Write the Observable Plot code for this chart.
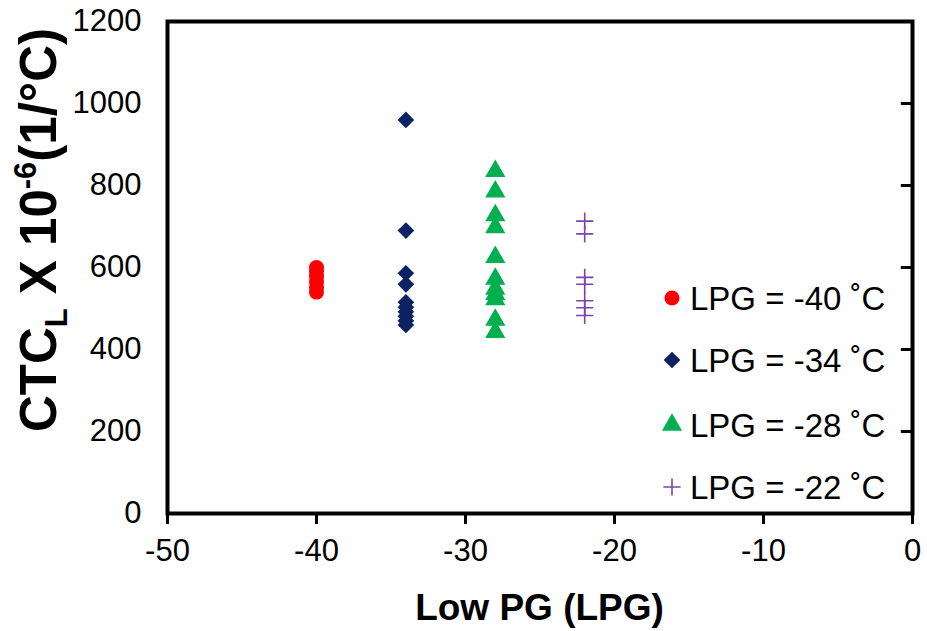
<!DOCTYPE html>
<html><head><meta charset="utf-8">
<script src="https://cdn.jsdelivr.net/npm/d3@7"></script>
<script src="https://cdn.jsdelivr.net/npm/@observablehq/plot@0.6"></script>
<style>
body{margin:0;background:#fff;}
#chart{position:relative;width:927px;height:631px;font-family:"Liberation Sans",Arial,sans-serif;}
</style>
</head><body><div id="chart"></div>
<script>
// ---- data ----
const seriesNames = ["LPG = -40 ˚C", "LPG = -34 ˚C", "LPG = -28 ˚C", "LPG = -22 ˚C"];
const seriesLPG = [-40, -34, -28, -22];
const valuesM40 = [540, 552, 565, 578, 590, 600];
const valuesM34 = [960, 690, 586, 559, 515, 503, 492, 481, 470, 460];
const valuesM28 = [835, 785, 727, 698, 625, 572, 548, 535, 522, 472, 442];
const valuesM22 = [713, 682, 576, 559, 519, 502, 483];
const xTicks = [-50, -40, -30, -20, -10, 0];
const yTicks = [0, 200, 400, 600, 800, 1000, 1200];

const seriesColors = ["#FF0000", "#0B2265", "#00B050", "#7A45A8"];
const seriesSymbols = ["circle", "diamond2", "triangle", "plus"];
const allValues = [valuesM40, valuesM34, valuesM28, valuesM22];

const rows = [];
allValues.forEach((vals, i) => vals.forEach(v => rows.push({series: seriesNames[i], lpg: seriesLPG[i], ctc: v})));

const W = 927, H = 631;
const mL = 167, mR = 15, mT = 21, mB = 118;

const marks = [];
[0,1,2].forEach(i => {
  marks.push(Plot.dot(rows.filter(d => d.series === seriesNames[i]), {
    x: "lpg", y: "ctc", symbol: () => seriesSymbols[i], r: 7.5,
    fill: seriesColors[i], stroke: "none"
  }));
});
marks.push(Plot.dot(rows.filter(d => d.series === seriesNames[3]), {
  x: "lpg", y: "ctc", symbol: () => "plus", r: 5.6,
  stroke: seriesColors[3], strokeWidth: 1.6, fill: "none"
}));

const plot = Plot.plot({
  width: W, height: H,
  marginLeft: mL, marginRight: mR, marginTop: mT, marginBottom: mB,
  style: {fontFamily: '"Liberation Sans", Arial, sans-serif', background: "#fff", color: "#000"},
  x: {domain: [-50, 0]},
  y: {domain: [0, 1200]},
  symbol: {type: "identity"},
  marks: [
    ...marks,
    Plot.axisX({ticks: xTicks, tickSize: 11, tickPadding: 14, strokeWidth: 3, fontSize: 31, tickFormat: d => String(d).replace("−","-"), label: null}),
    Plot.axisY({ticks: yTicks, tickSize: 0, tickPadding: 26, fontSize: 31, tickFormat: d => String(d), label: null}),
    Plot.ruleY(yTicks, {x1: -0.75, x2: 0, strokeWidth: 3}),
    Plot.frame({strokeWidth: 4, stroke: "#000"})
  ]
});
document.getElementById("chart").appendChild(plot);

const svg = d3.select(plot);
// x axis title
svg.append("text")
  .attr("x", mL + (W - mL - mR) / 2).attr("y", 620)
  .attr("text-anchor", "middle").attr("font-size", 37).attr("font-weight", "bold")
  .attr("fill", "#000").text("Low PG (LPG)");

// y axis title with subscript and superscript
const yt = svg.append("text")
  .attr("transform", "translate(56,230) rotate(-90)")
  .attr("text-anchor", "middle").attr("font-size", 51).attr("font-weight", "bold")
  .attr("fill", "#000");
yt.append("tspan").text("CTC");
yt.append("tspan").attr("font-size", 31).attr("dy", 11).text("L");
yt.append("tspan").attr("dy", -11).text(" X 10");
yt.append("tspan").attr("font-size", 31).attr("dy", -20).text("-6");
yt.append("tspan").attr("dy", 20).text("(1/°C)");

// legend
const legendY = [298, 360, 425, 487];
const lg = svg.append("g").attr("text-anchor", "start");
seriesNames.forEach((name, i) => {
  const g = lg.append("g").attr("transform", `translate(672,${legendY[i]})`);
  const sym = {circle: d3.symbolCircle, diamond2: d3.symbolDiamond2, triangle: d3.symbolTriangle, plus: d3.symbolPlus}[seriesSymbols[i]];
  const size = i === 3 ? Math.PI * 5.6 * 5.6 : Math.PI * 7.5 * 7.5;
  const p = g.append("path").attr("d", d3.symbol(sym, size)());
  if (i === 3) p.attr("fill", "none").attr("stroke", seriesColors[i]).attr("stroke-width", 1.6);
  else p.attr("fill", seriesColors[i]);
  g.append("text").attr("x", 18).attr("y", 12).attr("text-anchor", "start").attr("font-size", 33).attr("fill", "#000").text(name);
});
</script>
</body></html>
